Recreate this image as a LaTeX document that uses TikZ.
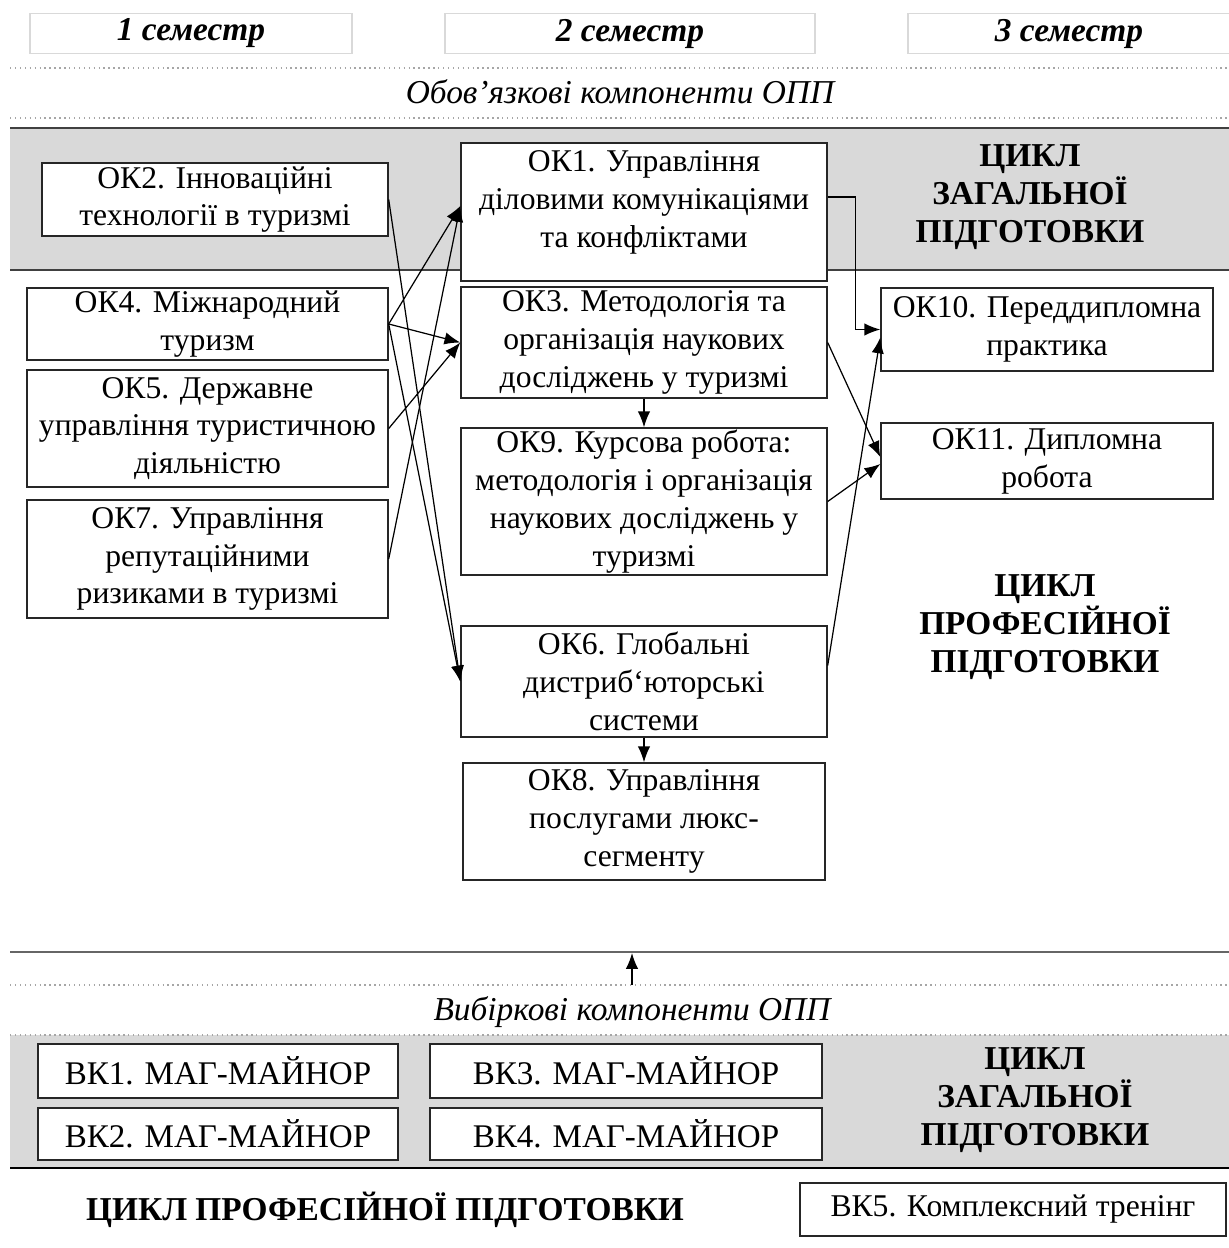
\documentclass[tikz,border=0pt]{standalone}
\usepackage{fontspec}
\setmainfont{Liberation Serif}[BoldFont={Liberation Serif Bold},ItalicFont={Liberation Serif Italic},BoldItalicFont={Liberation Serif Bold Italic}]
\usetikzlibrary{calc,arrows.meta}

\tikzset{
	okbox/.style={draw=black!85,line width=0.8pt,fill=white,align=center,inner sep=1pt,font=\fontsize{18}{21.5}\selectfont},
	vkbox/.style={okbox,font=\fontsize{18.8}{21.5}\selectfont},
	sembox/.style={draw=black!15,line width=0.6pt,fill=white,font=\fontsize{19}{21.5}\selectfont\bfseries\itshape},
	cyclehead/.style={align=center,font=\fontsize{19}{21.5}\selectfont\bfseries},
	compo/.style={font=\fontsize{19}{21}\selectfont\itshape},
	link/.style={-{Latex[length=9pt,width=7pt]},line width=0.7pt},
	dotline/.style={black!35,dotted,line width=0.8pt},
}

\begin{document}
\begin{tikzpicture}[x=0.2mm,y=-0.2mm]
	\useasboundingbox (0,0) rectangle (1229,1248);
	% semesters
	\node[sembox,minimum width=64.4mm,minimum height=6.6mm] (sem1) at (191,33.5) {1 семестр};
	\node[sembox,minimum width=74mm,minimum height=6.6mm] (sem2) at (630,33.5) {2 семестр};
	\node[sembox,minimum width=64.4mm,minimum height=6.6mm] (sem3) at (1069,33.5) {3 семестр};
	\draw[dotline] (10,68) -- (1229,68);
	\draw[dotline] (10,118) -- (1229,118);
	\node[compo] (oblig) at (620,92) {Обов'язкові компоненти ОПП};
	% general training band
	\fill[black!15] (10,128) rectangle (1229,270);
	\draw[black!75,line width=1pt] (10,128) -- (1229,128);
	\draw[black!75,line width=1pt] (10,270) -- (1229,270);
	\node[cyclehead] (gen1) at (1030,197) {ЦИКЛ\\ЗАГАЛЬНОЇ\\ПІДГОТОВКИ};
	\node[cyclehead] (prof1) at (1045,627) {ЦИКЛ\\ПРОФЕСІЙНОЇ\\ПІДГОТОВКИ};
	% mandatory components
	\node[okbox,minimum width=69.2mm,minimum height=14.6mm] (ok2) at (215,199.5) {ОК2. Інноваційні\\технології в туризмі};
	\node[okbox,minimum width=73.2mm,minimum height=27.6mm,text depth=15pt] (ok1) at (644,212) {ОК1. Управління\\діловими комунікаціями\\та конфліктами};
	\node[okbox,minimum width=72.2mm,minimum height=14.4mm] (ok4) at (207.5,324) {ОК4. Міжнародний\\туризм};
	\node[okbox,minimum width=72.2mm,minimum height=23.4mm] (ok5) at (207.5,428.5) {ОК5. Державне\\управління туристичною\\діяльністю};
	\node[okbox,minimum width=72.2mm,minimum height=23.6mm] (ok7) at (207.5,559) {ОК7. Управління\\репутаційними\\ризиками в туризмі};
	\node[okbox,minimum width=73.2mm,minimum height=22.2mm] (ok3) at (644,342.5) {ОК3. Методологія та\\організація наукових\\досліджень у туризмі};
	\node[okbox,minimum width=73.2mm,minimum height=29.4mm] (ok9) at (644,501.5) {ОК9. Курсова робота:\\методологія і організація\\наукових досліджень у\\туризмі};
	\node[okbox,minimum width=73.2mm,minimum height=22.2mm] (ok6) at (644,681.5) {ОК6. Глобальні\\дистриб`юторські\\системи};
	\node[okbox,minimum width=72.4mm,minimum height=23.4mm] (ok8) at (644,821.5) {ОК8. Управління\\послугами люкс-\\сегменту};
	\node[okbox,minimum width=66.4mm,minimum height=16.6mm] (ok10) at (1047,329.5) {ОК10. Переддипломна\\практика};
	\node[okbox,minimum width=66.4mm,minimum height=15.2mm] (ok11) at (1047,461) {ОК11. Дипломна\\робота};
	% links
	\draw[link] (ok4.east) -- ($(ok1.west)+(0,-6)$);
	\draw[link] (ok7.east) -- ($(ok1.west)+(0,-6)$);
	\draw[link] (ok4.east) -- (ok3.west);
	\draw[link] (ok5.east) -- (ok3.west);
	\draw[link] (ok2.east) -- (ok6.west);
	\draw[link] (ok4.east) -- (ok6.west);
	\draw[link] (ok3.south) -- (ok9.north);
	\draw[link] (ok6.south) -- (ok8.north);
	\draw[link] ($(ok1.east)+(0,-15)$) -- ++(28,0) |- (ok10.west);
	\draw[link] ($(ok6.east)+(0,-16)$) -- ($(ok10.west)+(0,8)$);
	\draw[link] (ok3.east) -- ($(ok11.west)+(0,-4)$);
	\draw[link] (ok9.east) -- ($(ok11.west)+(0,3)$);
	% elective components
	\draw[black!60,line width=1pt] (10,952) -- (1229,952);
	\draw[dotline] (10,985) -- (1229,985);
	\coordinate (optlow) at (632,985);
	\coordinate (opthigh) at (632,953);
	\draw[link] (optlow) -- (opthigh);
	\node[compo] (elect) at (632,1012) {Вибіркові компоненти ОПП};
	\fill[black!15] (10,1035) rectangle (1229,1168);
	\draw[dotline] (10,1035) -- (1229,1035);
	\draw[black,line width=1pt] (10,1168) -- (1229,1168);
	\node[vkbox,minimum width=72mm,minimum height=10.8mm] (vk1) at (218,1071) {ВК1. МАГ-МАЙНОР};
	\node[vkbox,minimum width=72mm,minimum height=10.4mm] (vk2) at (218,1134) {ВК2. МАГ-МАЙНОР};
	\node[vkbox,minimum width=78.4mm,minimum height=10.8mm] (vk3) at (626,1071) {ВК3. МАГ-МАЙНОР};
	\node[vkbox,minimum width=78.4mm,minimum height=10.4mm] (vk4) at (626,1134) {ВК4. МАГ-МАЙНОР};
	\node[cyclehead] (gen2) at (1035,1100) {ЦИКЛ\\ЗАГАЛЬНОЇ\\ПІДГОТОВКИ};
	\node[cyclehead] (prof2) at (385,1210) {ЦИКЛ ПРОФЕСІЙНОЇ ПІДГОТОВКИ};
	\node[okbox,minimum width=85.2mm,minimum height=10.6mm] (vk5) at (1013,1209.5) {ВК5. Комплексний тренінг};
\end{tikzpicture}
\end{document}
